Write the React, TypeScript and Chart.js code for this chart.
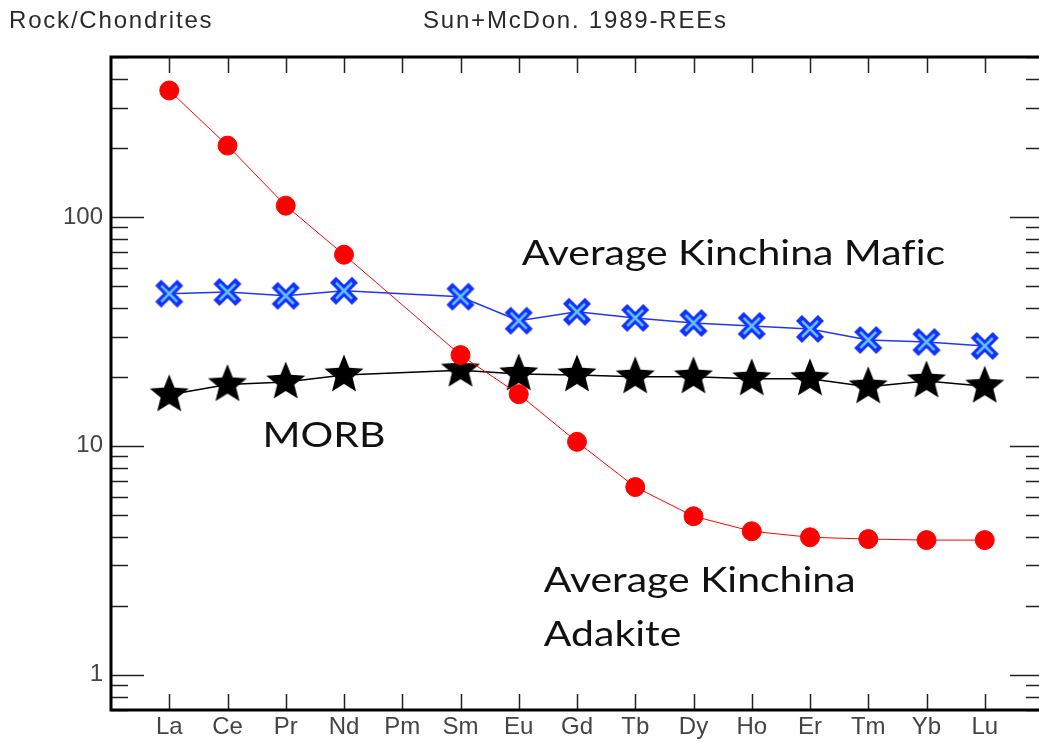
import React, { useEffect, useRef } from 'react';
import { Chart, registerables } from 'chart.js';

Chart.register(...registerables);

// Rare earth elements, chondrite-normalised (Sun & McDonough 1989)
const elements = ['La', 'Ce', 'Pr', 'Nd', 'Pm', 'Sm', 'Eu', 'Gd', 'Tb', 'Dy', 'Ho', 'Er', 'Tm', 'Yb', 'Lu'];
const adakite = [357, 205, 112, 68.4, null, 24.9, 16.8, 10.4, 6.6, 4.92, 4.23, 3.98, 3.91, 3.87, 3.87];
const mafic = [46.2, 47.0, 45.2, 47.6, null, 44.8, 35.2, 38.5, 36.2, 34.4, 33.4, 32.4, 29.0, 28.4, 27.3];
const morb = [16.7, 18.5, 19.0, 20.4, null, 21.4, 20.6, 20.4, 20.0, 20.0, 19.6, 19.6, 18.1, 19.2, 18.2];

const yLabelTicks = [1, 10, 100];
const yRange = [0.7, 500];
const xRange = [0, 16];

const headerLeft = 'Rock/Chondrites';
const headerCenter = 'Sun+McDon. 1989-REEs';

// Text notes placed in data coordinates: [text, x, y]
const notes: [string, number, number][] = [
  ['Average Kinchina Mafic', 7.05, 61.8],
  ['MORB', 2.6, 9.87],
  ['Average Kinchina', 7.43, 2.29],
  ['Adakite', 7.43, 1.33],
];

const toPoints = (arr: (number | null)[]) => arr.map((v, i) => ({ x: i + 1, y: v }));

function makeStar(): HTMLCanvasElement {
  const c = document.createElement('canvas');
  c.width = 46;
  c.height = 46;
  const ctx = c.getContext('2d')!;
  const cx = 23, cy = 23, R = 20.5, r = 9;
  ctx.beginPath();
  for (let i = 0; i < 10; i++) {
    const rad = i % 2 === 0 ? R : r;
    const a = -Math.PI / 2 + (i * Math.PI) / 5;
    const px = cx + rad * Math.cos(a);
    const py = cy + rad * Math.sin(a);
    if (i === 0) ctx.moveTo(px, py);
    else ctx.lineTo(px, py);
  }
  ctx.closePath();
  ctx.fillStyle = '#000000';
  ctx.fill();
  return c;
}

function makeCross(): HTMLCanvasElement {
  const c = document.createElement('canvas');
  c.width = 34;
  c.height = 34;
  const ctx = c.getContext('2d')!;
  const draw = (a: number, b: number) => {
    ctx.beginPath();
    ctx.moveTo(a, a);
    ctx.lineTo(b, b);
    ctx.moveTo(b, a);
    ctx.lineTo(a, b);
    ctx.stroke();
  };
  ctx.strokeStyle = '#1230ff';
  ctx.lineWidth = 8.5;
  ctx.lineCap = 'square';
  draw(9, 25);
  ctx.strokeStyle = '#62c0ff';
  ctx.lineWidth = 2.5;
  ctx.lineCap = 'butt';
  draw(9, 25);
  return c;
}

const framePlugin = {
  id: 'frame',
  beforeDatasetsDraw(chart: any) {
    const { ctx, chartArea: a, scales } = chart;
    const xs = scales.x, ys = scales.y;
    ctx.save();
    ctx.strokeStyle = '#222';
    ctx.lineWidth = 1.5;
    // x ticks on top and bottom, pointing inward
    for (let i = 1; i <= elements.length; i++) {
      const px = Math.round(xs.getPixelForValue(i)) + 0.5;
      ctx.beginPath();
      ctx.moveTo(px, a.top);
      ctx.lineTo(px, a.top + 16);
      ctx.moveTo(px, a.bottom);
      ctx.lineTo(px, a.bottom - 16);
      ctx.stroke();
    }
    // y ticks on left and right: long at decades, short in between
    for (let d = 0.1; d <= 1000; d *= 10) {
      for (let k = 1; k <= 9; k++) {
        const v = d * k;
        if (v < yRange[0] || v > yRange[1]) continue;
        const len = k === 1 ? 33 : 17;
        const py = Math.round(ys.getPixelForValue(v)) + 0.5;
        ctx.beginPath();
        ctx.moveTo(a.left, py);
        ctx.lineTo(a.left + len, py);
        ctx.moveTo(a.right, py);
        ctx.lineTo(a.right - len, py);
        ctx.stroke();
      }
    }
    ctx.lineWidth = 3;
    ctx.strokeStyle = '#000';
    ctx.strokeRect(a.left, a.top, a.right - a.left, a.bottom - a.top);
    ctx.restore();
  },
  afterDraw(chart: any) {
    const { ctx, scales } = chart;
    ctx.save();
    ctx.textBaseline = 'alphabetic';
    ctx.textAlign = 'left';
    ctx.fillStyle = '#2a2a2a';
    ctx.font = '24px "Liberation Sans", Arial, sans-serif';
    (ctx as any).letterSpacing = '1.8px';
    ctx.fillText(headerLeft, 9, 28);
    ctx.fillText(headerCenter, 423, 28);
    // a tiny non-zero spacing keeps "fi" from forming a ligature
    (ctx as any).letterSpacing = '0.01px';
    ctx.fillStyle = '#111';
    ctx.font = '35px Lato, sans-serif';
    const stretch = 1.17;
    for (const [t, x, y] of notes) {
      const px = scales.x.getPixelForValue(x);
      const py = scales.y.getPixelForValue(y);
      ctx.save();
      ctx.translate(px, py);
      ctx.scale(stretch, 1);
      ctx.fillText(t, 0, 0);
      ctx.restore();
    }
    (ctx as any).letterSpacing = '0px';
    ctx.restore();
  },
};

export default function App() {
  const ref = useRef<HTMLCanvasElement>(null);

  useEffect(() => {
    const canvas = ref.current!;
    const star = makeStar();
    const cross = makeCross();
    const tickFont = { family: '"Liberation Sans", Arial, sans-serif', size: 24 };
    const chart = new Chart(canvas, {
      type: 'line',
      data: {
        datasets: [
          {
            label: 'Average Kinchina Adakite',
            data: toPoints(adakite) as any,
            borderColor: '#ff0000',
            borderWidth: 1,
            backgroundColor: '#ff0000',
            pointStyle: 'circle',
            pointRadius: 9.5,
            pointBorderWidth: 1,
            pointBorderColor: '#ff0000',
            pointBackgroundColor: '#ff0000',
            spanGaps: true,
            tension: 0,
          },
          {
            label: 'Average Kinchina Mafic',
            data: toPoints(mafic) as any,
            borderColor: '#2035ff',
            borderWidth: 1.5,
            pointStyle: cross as any,
            spanGaps: true,
            tension: 0,
          },
          {
            label: 'MORB',
            data: toPoints(morb) as any,
            borderColor: '#000000',
            borderWidth: 1.5,
            pointStyle: star as any,
            spanGaps: true,
            tension: 0,
          },
        ],
      },
      options: {
        responsive: false,
        animation: false,
        devicePixelRatio: 1,
        layout: { autoPadding: false, padding: { top: 57, right: 3, left: 0, bottom: 0 } },
        plugins: { legend: { display: false }, tooltip: { enabled: false } },
        scales: {
          x: {
            type: 'linear',
            min: xRange[0],
            max: xRange[1],
            grid: { display: false, drawTicks: false },
            border: { display: false },
            afterBuildTicks: (s: any) => {
              s.ticks = elements.map((_, i) => ({ value: i + 1 }));
            },
            afterFit: (s: any) => {
              s.height = 32;
            },
            ticks: {
              autoSkip: false,
              maxRotation: 0,
              padding: 3,
              color: '#444',
              font: tickFont,
              callback: (v: any) => elements[Number(v) - 1] ?? '',
            },
          },
          y: {
            type: 'logarithmic',
            min: yRange[0],
            max: yRange[1],
            grid: { display: false, drawTicks: false },
            border: { display: false },
            afterBuildTicks: (s: any) => {
              s.ticks = yLabelTicks.map((v) => ({ value: v }));
            },
            afterFit: (s: any) => {
              s.width = 111;
            },
            ticks: {
              padding: 8,
              color: '#444',
              font: tickFont,
              callback: (v: any) => String(v),
            },
          },
        },
      },
      plugins: [framePlugin],
    });
    return () => chart.destroy();
  }, []);

  return (
    <div style={{ position: 'fixed', left: 0, top: 0, width: 1039, height: 742, overflow: 'hidden', background: '#fff' }}>
      <canvas ref={ref} width={1046} height={742} style={{ display: 'block' }} />
    </div>
  );
}
